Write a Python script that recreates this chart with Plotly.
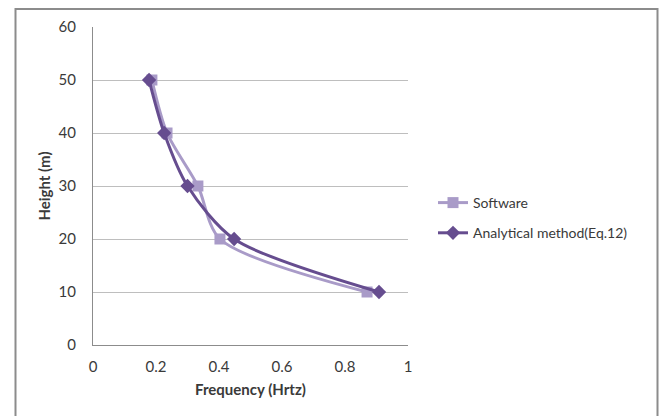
import plotly.graph_objects as go

heights = [50, 40, 30, 20, 10]
software = [0.187, 0.235, 0.333, 0.403, 0.870]
analytical = [0.178, 0.226, 0.300, 0.448, 0.908]
x_ticks = [0, 0.2, 0.4, 0.6, 0.8, 1]
x_tick_labels = ["0", "0.2", "0.4", "0.6", "0.8", "1"]
y_ticks = [0, 10, 20, 30, 40, 50, 60]

FONT = "Lato"
TXT = "#3A3A3A"

fig = go.Figure()
fig.add_trace(go.Scatter(
    x=software, y=heights, name="Software", mode="lines+markers", legendgroup="a",
    line=dict(color="#A99BC8", width=3, shape="spline", smoothing=0.8),
    marker=dict(symbol="square", size=11, color="#A99BC8"),
))
fig.add_trace(go.Scatter(
    x=analytical, y=heights, name="Analytical method(Eq.12)", mode="lines+markers", legendgroup="b",
    line=dict(color="#664D8F", width=3, shape="spline", smoothing=0.8),
    marker=dict(symbol="diamond", size=11, color="#664D8F"),
))

W, H = 661, 416
L, R, T, B = 93, 408, 27, 345
pw, ph = R - L, B - T

def px_to_paper_x(px):
    return (px - L) / pw

def px_to_paper_y(py):
    return (B - py) / ph

fig.add_shape(type="rect", xref="paper", yref="paper",
              x0=px_to_paper_x(15.5), x1=px_to_paper_x(657.5),
              y0=px_to_paper_y(430), y1=px_to_paper_y(9),
              line=dict(color="#8C8C8C", width=2), fillcolor="rgba(0,0,0,0)", layer="below")

fig.update_layout(
    width=W, height=H,
    margin=dict(l=L, r=W - R, t=T, b=H - B, autoexpand=False),
    paper_bgcolor="white", plot_bgcolor="white",
    font=dict(family=FONT, size=14, color=TXT),
    showlegend=True,
    legend=dict(x=px_to_paper_x(433), y=px_to_paper_y(187), xanchor="left", yanchor="top",
                font=dict(family=FONT, size=14, color=TXT), traceorder="grouped",
                bgcolor="rgba(0,0,0,0)", tracegroupgap=9, itemwidth=30),
    xaxis=dict(range=[0, 1], tickvals=x_ticks, ticktext=x_tick_labels,
               showgrid=False, zeroline=False, showline=True, linecolor="#8C8C8C", linewidth=1,
               ticks="", ticklabelstandoff=8, tickfont=dict(size=15, color=TXT),
               title=dict(text="<b>Frequency (Hrtz)</b>", font=dict(size=15, color=TXT), standoff=10)),
    yaxis=dict(range=[0, 60], tickvals=y_ticks,
               showgrid=True, gridcolor="#BEBEBE", gridwidth=1.2, zeroline=False,
               showline=True, linecolor="#8C8C8C", linewidth=1,
               ticks="", ticklabelstandoff=13, tickfont=dict(size=15, color=TXT),
               title=dict(text="<b>Height (m)</b>", font=dict(size=15, color=TXT), standoff=4)),
)

fig.write_html("out.html")
